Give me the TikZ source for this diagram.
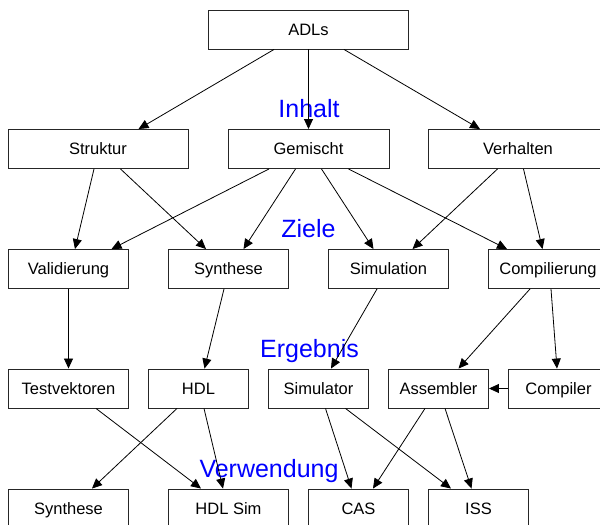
\documentclass[tikz,border=0pt]{standalone}
\usepackage{fontspec}
\setmainfont{Liberation Sans}
\usetikzlibrary{arrows.meta}
\begin{document}
\begin{tikzpicture}[x=1pt,y=-1pt,
  box/.style={draw=black!85,line width=0.9pt,rectangle,minimum height=39pt,
    inner sep=0pt,text height=12pt,text depth=0.5pt,font=\fontsize{16.5}{19}\selectfont},
  level/.style={text=blue,anchor=base,inner sep=0pt,font=\fontsize{25}{30}\selectfont},
  link/.style={line width=0.8pt,-{Triangle[length=10pt,width=9pt]}}]
\clip (0,0) rectangle (600,525);
\fill[white] (0,0) rectangle (600,525);

% top
\node[box,minimum width=200pt] (adl) at (308.5,29.5) {ADLs};
% Inhalt
\node[box,minimum width=180pt] (struk) at (98,149) {Struktur};
\node[box,minimum width=161pt] (gem) at (308.5,149) {Gemischt};
\node[box,minimum width=180pt] (verh) at (518,149) {Verhalten};
% Ziele
\node[box,minimum width=120pt] (valid) at (68.5,269) {Validierung};
\node[box,minimum width=120pt] (synth) at (228.5,269) {Synthese};
\node[box,minimum width=120pt] (simu) at (388.5,269) {Simulation};
\node[box,minimum width=120pt] (comp) at (548,269) {Compilierung};
% Ergebnis
\node[box,minimum width=120pt] (test) at (68.5,388.5) {Testvektoren};
\node[box,minimum width=100pt] (hdl) at (198.5,388.5) {HDL};
\node[box,minimum width=100pt] (simr) at (318.5,388.5) {Simulator};
\node[box,minimum width=100pt] (asm) at (438.5,388.5) {Assembler};
\node[box,minimum width=100pt] (cpl) at (558.5,388.5) {Compiler};
% Verwendung
\node[box,minimum width=120pt] (usyn) at (68.5,508.5) {Synthese};
\node[box,minimum width=120pt] (hsim) at (228.5,508.5) {HDL Sim};
\node[box,minimum width=100pt] (cas) at (358.5,508.5) {CAS};
\node[box,minimum width=100pt] (iss) at (478.5,508.5) {ISS};

% level captions
\node[level] (l1) at (309,117) {Inhalt};
\node[level] (l2) at (308.5,237) {Ziele};
\node[level] (l3) at (309.5,357) {Ergebnis};
\node[level] (l4) at (269,477) {Verwendung};

% ADLs -> Inhalt
\draw[link] ([xshift=-34.5pt]adl.south) -- ([xshift=40.5pt]struk.north);
\draw[link] (adl.south) -- (gem.north);
\draw[link] ([xshift=35.5pt]adl.south) -- ([xshift=-38pt]verh.north);
% Inhalt -> Ziele
\draw[link] ([xshift=-4pt]struk.south) -- ([xshift=6.5pt]valid.north);
\draw[link] ([xshift=22.5pt]struk.south) -- ([xshift=-22.5pt]synth.north);
\draw[link] ([xshift=-39.5pt]gem.south) -- ([xshift=43pt]valid.north);
\draw[link] ([xshift=-13pt]gem.south) -- ([xshift=15pt]synth.north);
\draw[link] ([xshift=13pt]gem.south) -- ([xshift=-15pt]simu.north);
\draw[link] ([xshift=40pt]gem.south) -- ([xshift=-41pt]comp.north);
\draw[link] ([xshift=-20.5pt]verh.south) -- ([xshift=24pt]simu.north);
\draw[link] ([xshift=5.5pt]verh.south) -- ([xshift=-5.5pt]comp.north);
% Ziele -> Ergebnis
\draw[link] (valid.south) -- (test.north);
\draw[link] ([xshift=-4.5pt]synth.south) -- ([xshift=6pt]hdl.north);
\draw[link] ([xshift=-11.5pt]simu.south) -- ([xshift=12.5pt]simr.north);
\draw[link] ([xshift=-18pt]comp.south) -- ([xshift=20pt]asm.north);
\draw[link] ([xshift=3pt]comp.south) -- ([xshift=-1.5pt]cpl.north);
\draw[link] (cpl.west) -- (asm.east);
% Ergebnis -> Verwendung
\draw[link] ([xshift=27.5pt]test.south) -- ([xshift=-27.5pt]hsim.north);
\draw[link] ([xshift=-21.5pt]hdl.south) -- ([xshift=23.5pt]usyn.north);
\draw[link] ([xshift=5.5pt]hdl.south) -- ([xshift=-5.5pt]hsim.north);
\draw[link] ([xshift=7pt]simr.south) -- ([xshift=-7pt]cas.north);
\draw[link] ([xshift=27pt]simr.south) -- ([xshift=-27.5pt]iss.north);
\draw[link] ([xshift=-13.5pt]asm.south) -- ([xshift=14.5pt]cas.north);
\draw[link] ([xshift=6.5pt]asm.south) -- ([xshift=-7pt]iss.north);
\end{tikzpicture}
\end{document}
